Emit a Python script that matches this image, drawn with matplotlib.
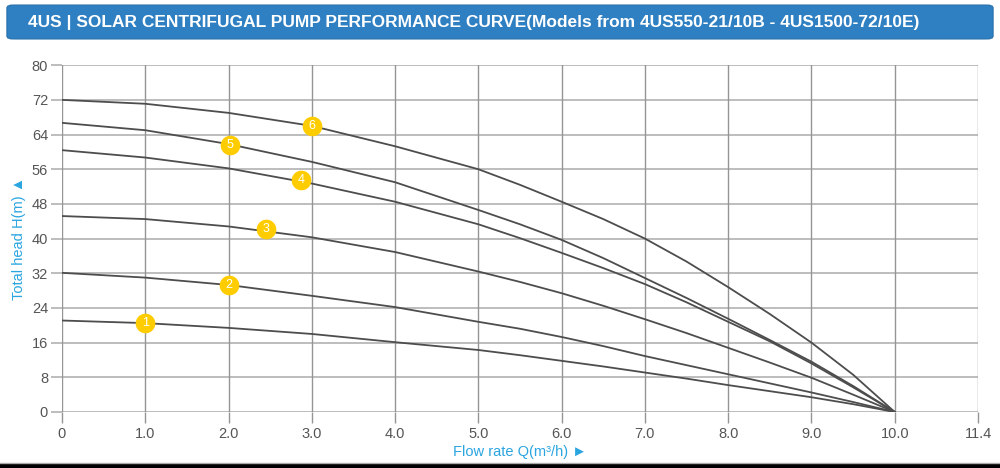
import matplotlib.pyplot as plt
from matplotlib.patches import FancyBboxPatch

# pump curves: flow rate (m3/h) vs head (m), models 1..6
flow = [0, 1, 2, 3, 4, 5, 5.5, 6, 6.5, 7, 7.5, 8, 8.5, 9, 9.5, 10]
head_1 = [21.1, 20.5, 19.4, 18.0, 16.1, 14.3, 13.1, 11.8, 10.5, 9.1, 7.7, 6.2, 4.8, 3.4, 1.8, 0]
head_2 = [32.1, 31.0, 29.3, 26.8, 24.2, 20.8, 19.2, 17.3, 15.2, 12.9, 10.8, 8.7, 6.6, 4.5, 2.3, 0]
head_3 = [45.2, 44.5, 42.8, 40.3, 36.9, 32.4, 30.0, 27.4, 24.5, 21.4, 18.2, 14.8, 11.4, 7.9, 4.0, 0]
head_4 = [60.4, 58.7, 56.2, 52.7, 48.5, 43.3, 40.1, 36.7, 33.2, 29.5, 25.3, 20.8, 16.3, 11.2, 5.7, 0]
head_5 = [66.7, 65.0, 61.8, 57.7, 53.0, 46.6, 43.3, 39.7, 35.5, 30.9, 26.3, 21.5, 16.6, 11.6, 6.0, 0]
head_6 = [72.0, 71.1, 69.0, 66.0, 61.3, 56.0, 52.4, 48.5, 44.5, 40.0, 34.7, 28.8, 22.6, 16.0, 8.6, 0]
curves = [head_1, head_2, head_3, head_4, head_5, head_6]

# numbered badges on each curve
badge_x = [1.0, 2.0, 2.45, 2.87, 2.02, 3.0]
badge_y = [20.5, 29.3, 42.1, 53.4, 61.7, 66.0]

x_ticks = [0, 1, 2, 3, 4, 5, 6, 7, 8, 9, 10, 11]
x_labels = ["0", "1.0", "2.0", "3.0", "4.0", "5.0", "6.0", "7.0", "8.0", "9.0", "10.0", "11.4"]
y_ticks = [0, 8, 16, 24, 32, 40, 48, 56, 64, 72, 80]

title = "4US | SOLAR CENTRIFUGAL PUMP PERFORMANCE CURVE(Models from 4US550-21/10B - 4US1500-72/10E)"

plt.rcParams['font.family'] = ['Liberation Sans', 'DejaVu Sans']

fig = plt.figure(figsize=(10, 4.68), dpi=100)

# title bar
bar = FancyBboxPatch((0.007, 0.917), 0.986, 0.072,
                     boxstyle="round,pad=0,rounding_size=0.006",
                     transform=fig.transFigure, facecolor="#2F80C2",
                     edgecolor="#2A74B0", linewidth=1)
fig.patches.append(bar)
fig.text(0.028, 0.952, title, color="white", fontsize=12.5, fontweight="bold",
         va="center", ha="left")

ax = fig.add_axes([0.062, 0.1197, 0.916, 0.741])

# grid: light horizontal lines, darker vertical ones
for y in y_ticks:
    ax.axhline(y, color="#BDBDBD", lw=1.4, zorder=1)
for x in x_ticks:
    ax.axvline(x, color="#959595", lw=1.0, zorder=1)

for h in curves:
    ax.plot(flow, h, color="#4D4D4D", lw=1.3, zorder=2)

ax.scatter(badge_x, badge_y, s=200, color="#FFCC00", zorder=3, linewidths=0)
for i, (bx, by) in enumerate(zip(badge_x, badge_y)):
    ax.text(bx, by, str(i + 1), color="white", fontsize=9, ha="center",
            va="center", zorder=4)

ax.set_xlim(0, 11)
ax.set_ylim(0, 80)
ax.set_xticks(x_ticks)
ax.set_xticklabels(x_labels)
ax.set_yticks(y_ticks)
for s in ax.spines.values():
    s.set_visible(False)
ax.tick_params(axis="y", length=8, color="#BDBDBD", width=1.4, labelcolor="#555555",
               labelsize=10.5, pad=2)
ax.tick_params(axis="x", length=8, color="#959595", width=1.0, labelcolor="#555555",
               labelsize=10.5, pad=3)

ax.set_xlabel("Flow rate Q(m\u00b3/h) \u25ba", color="#2AA5E0", fontsize=10.5,
              labelpad=3)
ax.set_ylabel("Total head H(m) \u25b2", color="#2AA5E0", fontsize=10.5,
              labelpad=4)

# bottom frame line
fig.add_artist(plt.Line2D([0, 1], [0.004, 0.004], color="black", lw=3,
                          transform=fig.transFigure))
fig.add_artist(plt.Line2D([0, 1], [0.010, 0.010], color="#AAAAAA", lw=1,
                          transform=fig.transFigure))

fig.savefig("out.png", dpi=100)
